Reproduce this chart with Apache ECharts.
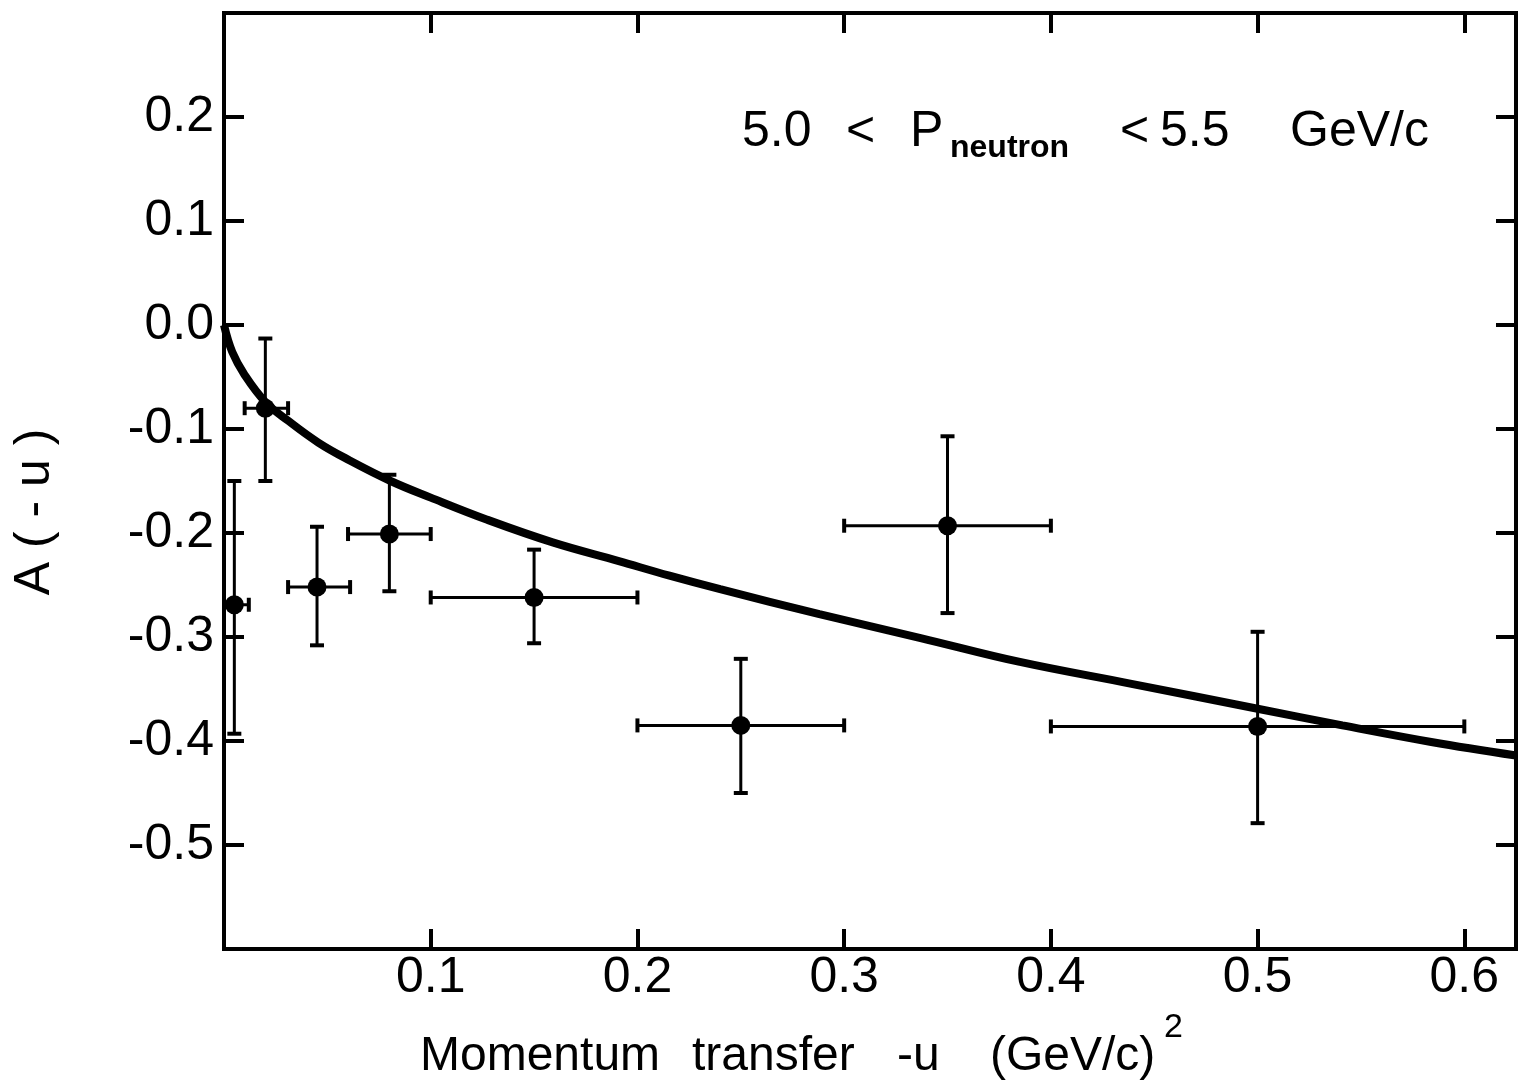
<!DOCTYPE html>
<html>
<head>
<meta charset="utf-8">
<script src="https://cdn.jsdelivr.net/npm/echarts@6/dist/echarts.min.js"></script>
<style>
html,body{margin:0;padding:0;background:#fff;}
#chart{width:1521px;height:1087px;}
</style>
</head>
<body>
<div id="chart"></div>
<script>
// Data points
var pointX    = [0.005, 0.020, 0.045, 0.080, 0.150, 0.250, 0.350, 0.500];
var pointY    = [-0.269, -0.080, -0.252, -0.201, -0.262, -0.385, -0.193, -0.386];
var errYLow   = [-0.393, -0.150, -0.308, -0.256, -0.306, -0.450, -0.277, -0.479];
var errYHigh  = [-0.150, -0.013, -0.194, -0.144, -0.216, -0.321, -0.107, -0.295];
var errXLow   = [0.000, 0.010, 0.031, 0.060, 0.100, 0.200, 0.300, 0.400];
var errXHigh  = [0.012, 0.031, 0.061, 0.100, 0.200, 0.300, 0.400, 0.600];

// Fitted curve
var curveX = [0, 0.004, 0.010, 0.020, 0.031, 0.0456, 0.0606, 0.0806, 0.100, 0.127, 0.159, 0.191, 0.2155, 0.240, 0.288, 0.337, 0.385, 0.439, 0.500, 0.541, 0.584, 0.625];
var curveY = [0, -0.026, -0.048, -0.074, -0.092, -0.113, -0.130, -0.150, -0.166, -0.187, -0.209, -0.227, -0.241, -0.254, -0.278, -0.301, -0.324, -0.345, -0.369, -0.385, -0.401, -0.414];

var xTickLabels = ['0.1', '0.2', '0.3', '0.4', '0.5', '0.6'];
var yTickLabels = ['0.2', '0.1', '0.0', '-0.1', '-0.2', '-0.3', '-0.4', '-0.5'];

var FONT = "'Liberation Sans', Arial, sans-serif";

var pointData = pointX.map(function (x, i) { return [x, pointY[i]]; });
var errData = pointX.map(function (x, i) {
  return [x, pointY[i], errXLow[i], errXHigh[i], errYLow[i], errYHigh[i]];
});
var curveData = curveX.map(function (x, i) { return [x, curveY[i]]; });

function fmtX(v) {
  var r = Math.round(v * 10) / 10;
  var s = r.toFixed(1);
  return (Math.abs(v - r) < 1e-6 && xTickLabels.indexOf(s) >= 0) ? s : '';
}
function fmtY(v) {
  var r = Math.round(v * 10) / 10;
  var s = (r === 0 ? 0 : r).toFixed(1);
  return (Math.abs(v - r) < 1e-6 && yTickLabels.indexOf(s) >= 0) ? s : '';
}

var chart = echarts.init(document.getElementById('chart'), null, {renderer: 'canvas'});

var tickStyle = {show: true, inside: true, length: 20, lineStyle: {color: '#000', width: 4}};

function txt(text, x, y, size, weight, align) {
  return {
    type: 'text', x: x, y: y,
    style: {
      text: text,
      font: (weight || 'normal') + ' ' + size + 'px ' + FONT,
      fill: '#000',
      textAlign: align || 'left',
      textVerticalAlign: 'middle'
    }
  };
}

var option = {
  backgroundColor: '#fff',
  animation: false,
  grid: {
    left: 224, top: 13, right: 5, bottom: 138,
    show: true, borderColor: '#000', borderWidth: 4, backgroundColor: 'transparent'
  },
  xAxis: [{
    type: 'value', min: 0, max: 0.625, interval: 0.1, position: 'bottom',
    axisLine: {show: true, onZero: false, lineStyle: {color: '#000', width: 4}},
    axisTick: tickStyle,
    splitLine: {show: false},
    axisLabel: {
      show: true, margin: 4, color: '#000', fontFamily: FONT, fontSize: 50,
      formatter: fmtX, showMaxLabel: false, showMinLabel: false
    }
  }, {
    type: 'value', min: 0, max: 0.625, interval: 0.1, position: 'top',
    axisLine: {show: false, onZero: false},
    axisTick: tickStyle,
    splitLine: {show: false},
    axisLabel: {show: false}
  }],
  yAxis: [{
    type: 'value', min: -0.6, max: 0.3, interval: 0.1, position: 'left',
    axisLine: {show: true, onZero: false, lineStyle: {color: '#000', width: 4}},
    axisTick: tickStyle,
    splitLine: {show: false},
    axisLabel: {
      show: true, margin: 10, color: '#000', fontFamily: FONT, fontSize: 50,
      formatter: fmtY, showMaxLabel: false, showMinLabel: false
    }
  }, {
    type: 'value', min: -0.6, max: 0.3, interval: 0.1, position: 'right',
    axisLine: {show: false, onZero: false},
    axisTick: tickStyle,
    splitLine: {show: false},
    axisLabel: {show: false}
  }],
  series: [{
    type: 'line',
    data: curveData,
    xAxisIndex: 0, yAxisIndex: 0,
    showSymbol: false,
    smooth: 0.4,
    lineStyle: {color: '#000', width: 8},
    clip: true,
    z: 3
  }, {
    type: 'custom',
    xAxisIndex: 0, yAxisIndex: 0,
    data: errData,
    clip: true,
    renderItem: function (params, api) {
      var x = api.value(0), y = api.value(1);
      var xl = api.value(2), xh = api.value(3), yl = api.value(4), yh = api.value(5);
      var pLow = api.coord([x, yl]);
      var pHigh = api.coord([x, yh]);
      var pLeft = api.coord([xl, y]);
      var pRight = api.coord([xh, y]);
      var cap = 7;
      var st = {stroke: '#000', lineWidth: 3};
      var cs = {stroke: '#000', lineWidth: 4};
      return {
        type: 'group',
        children: [
          {type: 'line', shape: {x1: pLow[0], y1: pLow[1], x2: pHigh[0], y2: pHigh[1]}, style: st},
          {type: 'line', shape: {x1: pLow[0] - cap, y1: pLow[1], x2: pLow[0] + cap, y2: pLow[1]}, style: cs},
          {type: 'line', shape: {x1: pHigh[0] - cap, y1: pHigh[1], x2: pHigh[0] + cap, y2: pHigh[1]}, style: cs},
          {type: 'line', shape: {x1: pLeft[0], y1: pLeft[1], x2: pRight[0], y2: pRight[1]}, style: st},
          {type: 'line', shape: {x1: pLeft[0], y1: pLeft[1] - cap, x2: pLeft[0], y2: pLeft[1] + cap}, style: cs},
          {type: 'line', shape: {x1: pRight[0], y1: pRight[1] - cap, x2: pRight[0], y2: pRight[1] + cap}, style: cs}
        ]
      };
    },
    z: 4
  }, {
    type: 'scatter',
    xAxisIndex: 0, yAxisIndex: 0,
    data: pointData,
    symbol: 'circle',
    symbolSize: 19,
    itemStyle: {color: '#000', opacity: 1},
    z: 5
  }],
  graphic: [
    {
      type: 'text',
      x: 35, y: 512,
      rotation: Math.PI / 2,
      style: {
        text: 'A ( - u )',
        font: '50px ' + FONT,
        fill: '#000',
        textAlign: 'center',
        textVerticalAlign: 'middle'
      }
    },
    // x-axis title
    txt('Momentum', 420, 1057, 48),
    txt('transfer', 692, 1057, 48),
    txt('-u', 897, 1057, 48),
    txt('(GeV/c)', 990, 1057, 48),
    txt('2', 1164, 1028, 34),
    // annotation
    txt('5.0', 742, 132, 50),
    txt('<', 846, 132, 50),
    txt('P', 910, 132, 50),
    txt('neutron', 950, 148, 32, 'bold'),
    txt('<', 1120, 132, 50),
    txt('5.5', 1160, 132, 50),
    txt('GeV/c', 1290, 132, 50)
  ]
};

chart.setOption(option);
</script>
</body>
</html>
